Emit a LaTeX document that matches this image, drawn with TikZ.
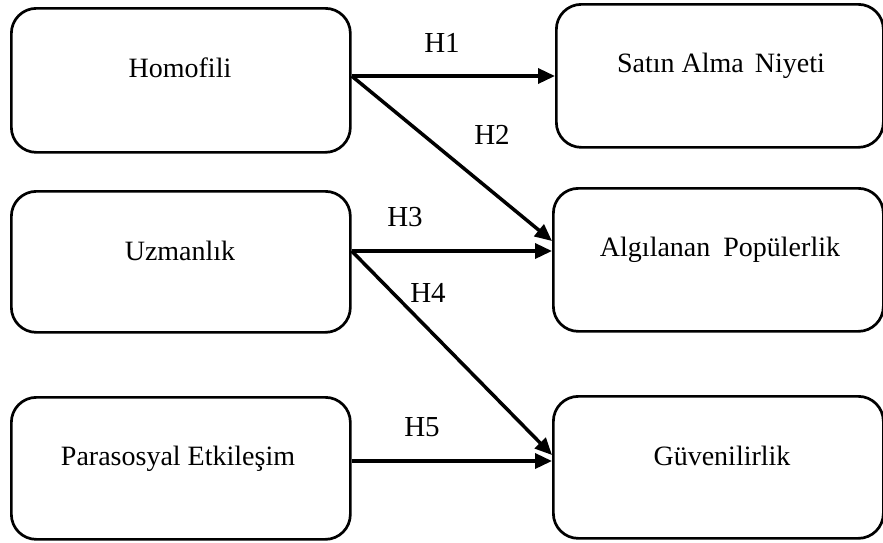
\documentclass[tikz,border=0pt]{standalone}
\usepackage{fontspec}
\setmainfont{Liberation Serif}
\usetikzlibrary{arrows.meta}
\begin{document}
\begin{tikzpicture}[x=1pt,y=-1pt,
  box/.style={draw=black,line width=2.7pt,rounded corners=25pt,inner sep=0pt,anchor=north west},
  txt/.style={anchor=base,inner sep=0pt,font=\fontsize{28}{31}\selectfont},
  hlab/.style={inner sep=0pt,font=\fontsize{29}{32}\selectfont},
  arr/.style={line width=3.5pt,-{Triangle[length=17pt,width=15pt]}}]
\useasboundingbox (0,0) rectangle (883,542);
% boxes
\node[box,minimum width=339pt,minimum height=144pt] (hom) at (10,7) {};
\node[box,minimum width=339pt,minimum height=141pt] (uzm) at (10,190) {};
\node[box,minimum width=339pt,minimum height=142pt] (par) at (10,396) {};
\node[box,minimum width=327pt,minimum height=143pt] (sat) at (555,3) {};
\node[box,minimum width=330pt,minimum height=143pt] (alg) at (552,187) {};
\node[box,minimum width=330pt,minimum height=142pt] (guv) at (552,395) {};
% texts
\node[txt] (thom) at (180,77) {Homofili};
\node[txt] (tuzm) at (180,260) {Uzmanlık};
\node[txt] (tpar) at (178,465) {Parasosyal Etkileşim};
\node[txt] (tsat) at (721,72) {Satın Alma\hspace{4pt} Niyeti};
\node[txt] (talg) at (720,256) {Algılanan\hspace{6pt} Popülerlik};
\node[txt] (tguv) at (722,465) {Güvenilirlik};
% arrow heights
\coordinate (y1) at (0,76);
\coordinate (y2) at (0,241);
\coordinate (y3) at (0,251);
\coordinate (y4) at (0,455);
\coordinate (y5) at (0,461);
\draw[arr] (hom.east |- y1) -- (sat.west |- y1);
\draw[arr] (hom.east |- y1) -- (alg.west |- y2);
\draw[arr] (uzm.east |- y3) -- (alg.west |- y3);
\draw[arr] (uzm.east |- y3) -- (guv.west |- y4);
\draw[arr] (par.east |- y5) -- (guv.west |- y5);
% labels
\node[hlab] (l1) at (442,43) {H1};
\node[hlab] (l2) at (492,135) {H2};
\node[hlab] (l3) at (405,217) {H3};
\node[hlab] (l4) at (428,293) {H4};
\node[hlab] (l5) at (422,427) {H5};
\end{tikzpicture}
\end{document}
